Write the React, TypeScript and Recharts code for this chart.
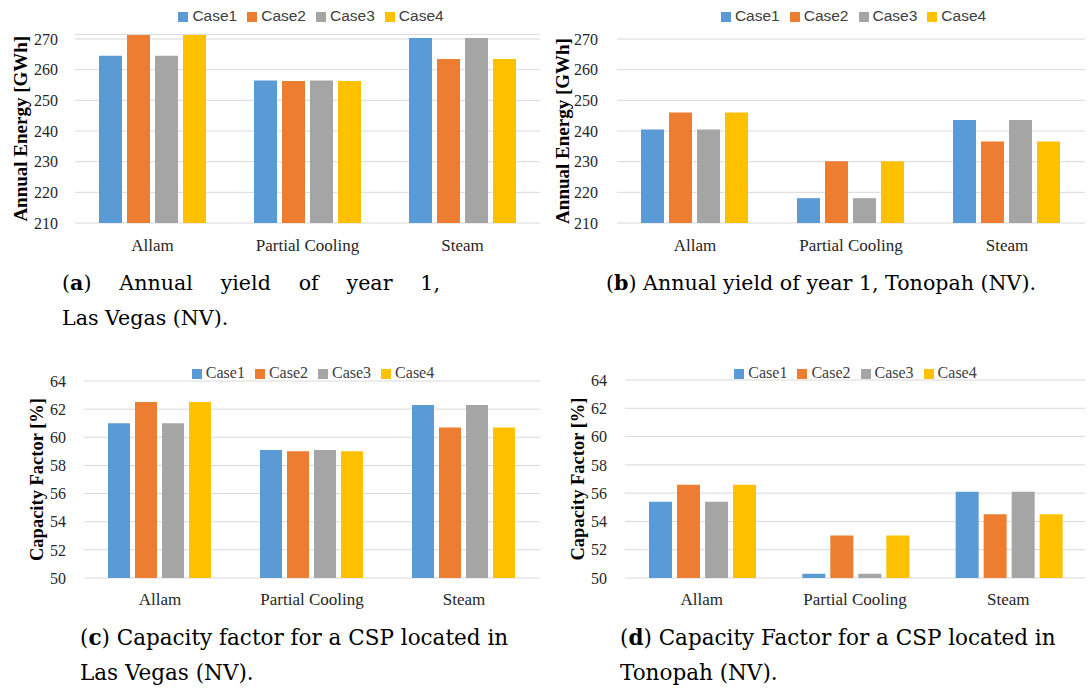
import React from 'react';
import { BarChart, Bar, XAxis, YAxis, CartesianGrid, Legend } from 'recharts';

const categories = ['Allam', 'Partial Cooling', 'Steam'];
const caseNames = ['Case1', 'Case2', 'Case3', 'Case4'];
const caseColors = ['#5B9BD5', '#ED7D31', '#A5A5A5', '#FFC000'];

// annual energy [GWh], year 1
const energyLasVegas = [
  [264.5, 256.5, 270.3],
  [271.3, 256.3, 263.5],
  [264.5, 256.5, 270.3],
  [271.3, 256.3, 263.5],
];
const energyTonopah = [
  [240.5, 218.1, 243.6],
  [246.0, 230.1, 236.6],
  [240.5, 218.1, 243.6],
  [246.0, 230.1, 236.6],
];
// capacity factor [%]
const cfLasVegas = [
  [61.0, 59.1, 62.3],
  [62.5, 59.0, 60.7],
  [61.0, 59.1, 62.3],
  [62.5, 59.0, 60.7],
];
const cfTonopah = [
  [55.4, 50.3, 56.1],
  [56.6, 53.0, 54.5],
  [55.4, 50.3, 56.1],
  [56.6, 53.0, 54.5],
];

const energyTicks = [210, 220, 230, 240, 250, 260, 270];
const cfTicks = [50, 52, 54, 56, 58, 60, 62, 64];

const toRows = (series) =>
  categories.map((name, i) => {
    const row = { name };
    caseNames.forEach((c, k) => {
      row[c] = series[k][i];
    });
    return row;
  });

const SERIF = '"Liberation Serif", serif';
const SANS = '"Liberation Sans", sans-serif';

const Panel = ({ series, ticks, yMax, label, left, top, width, height, margin, yWidth, tickMargin, labelOffset, xTickMargin, legendFont, legendSize, legendTop, legendLeft, labelSize }) => {
  const data = toRows(series);
  return (
    <div style={{ position: 'absolute', left, top }}>
      <BarChart width={width} height={height} data={data} margin={margin} barCategoryGap={24} barGap={5}>
        <CartesianGrid vertical={false} stroke="#D9D9D9" />
        <Legend
          verticalAlign="top"
          iconType="square"
          iconSize={10}
          wrapperStyle={{ top: legendTop, left: legendLeft, fontFamily: legendFont, fontSize: legendSize, color: '#404040' }}
          formatter={(v) => <span style={{ color: '#404040' }}>{v}</span>}
        />
        <XAxis
          dataKey="name"
          axisLine={false}
          tickLine={false}
          tickMargin={xTickMargin}
          tick={{ fill: '#262626', fontFamily: SERIF, fontSize: 17 }}
        />
        <YAxis
          width={yWidth}
          domain={[ticks[0], yMax]}
          ticks={ticks}
          allowDataOverflow
          axisLine={false}
          tickLine={false}
          tickSize={0}
          tickMargin={tickMargin}
          tick={{ fill: '#262626', fontFamily: SERIF, fontSize: 16 }}
          label={{
            value: label,
            angle: -90,
            position: 'insideLeft',
            offset: labelOffset,
            style: { textAnchor: 'middle', fontFamily: SERIF, fontWeight: 'bold', fontSize: labelSize, fill: '#000' },
          }}
        />
        {caseNames.map((c, k) => (
          <Bar key={c} dataKey={c} fill={caseColors[k]} isAnimationActive={false} />
        ))}
      </BarChart>
    </div>
  );
};

const capStyle = {
  position: 'absolute',
  fontFamily: '"DejaVu Serif", serif',
  color: '#000',
  lineHeight: '35px',
  whiteSpace: 'nowrap',
};

export default function App() {
  return (
    <div style={{ position: 'absolute', left: 0, top: 0, width: 1088, height: 690, background: '#fff', overflow: 'hidden' }}>
      <Panel
        series={energyLasVegas}
        ticks={energyTicks}
        yMax={271.5}
        label="Annual Energy  [GWh]"
        left={0}
        top={0}
        width={545}
        height={262}
        margin={{ top: 16.4, right: 5, bottom: 9, left: 0 }}
        yWidth={75}
        tickMargin={17}
        labelOffset={20}
        xTickMargin={10}
        legendFont={SANS}
        legendSize={15.5}
        legendTop={7}
        legendLeft={46}
        labelSize={19}
      />
      <Panel
        series={energyTonopah}
        ticks={energyTicks}
        yMax={270}
        label="Annual Energy  [GWh]"
        left={540}
        top={0}
        width={548}
        height={262}
        margin={{ top: 21, right: 3, bottom: 9, left: 0 }}
        yWidth={77}
        tickMargin={19}
        labelOffset={22}
        xTickMargin={10}
        legendFont={SANS}
        legendSize={15.5}
        legendTop={7}
        legendLeft={46}
        labelSize={19}
      />
      <Panel
        series={cfLasVegas}
        ticks={cfTicks}
        yMax={64}
        label="Capacity Factor [%]"
        left={0}
        top={350}
        width={545}
        height={280}
        margin={{ top: 13, right: 5, bottom: 22, left: 0 }}
        yWidth={84}
        tickMargin={18}
        labelOffset={36}
        xTickMargin={9}
        legendFont={SERIF}
        legendSize={16}
        legendTop={14}
        legendLeft={48}
        labelSize={18.5}
      />
      <Panel
        series={cfTonopah}
        ticks={cfTicks}
        yMax={64}
        label="Capacity Factor [%]"
        left={540}
        top={350}
        width={548}
        height={280}
        margin={{ top: 12, right: 3, bottom: 22, left: 0 }}
        yWidth={85}
        tickMargin={18}
        labelOffset={37}
        xTickMargin={9}
        legendFont={SERIF}
        legendSize={16}
        legendTop={14}
        legendLeft={48}
        labelSize={18.5}
      />

      <div style={{ ...capStyle, fontSize: 20.6, left: 62, top: 266 }}>
        <div style={{ width: 378, textAlign: 'justify', textAlignLast: 'justify' }}>
          (<b>a</b>) Annual yield of year 1,
        </div>
        <div>Las Vegas (NV).</div>
      </div>
      <div style={{ ...capStyle, fontSize: 20.6, left: 606, top: 266 }}>
        (<b>b</b>) Annual yield of year 1, Tonopah (NV).
      </div>
      <div style={{ ...capStyle, fontSize: 21.5, left: 80, top: 620 }}>
        <div>(<b>c</b>) Capacity factor for a CSP located in</div>
        <div>Las Vegas (NV).</div>
      </div>
      <div style={{ ...capStyle, fontSize: 21.5, left: 620, top: 620 }}>
        <div>(<b>d</b>) Capacity Factor for a CSP located in</div>
        <div>Tonopah (NV).</div>
      </div>
    </div>
  );
}
